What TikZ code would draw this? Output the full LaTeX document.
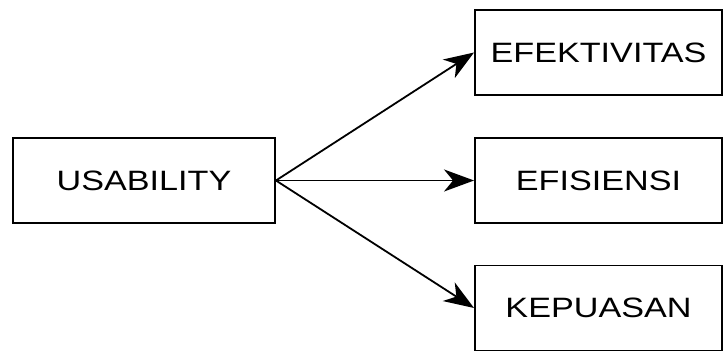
\documentclass[tikz,border=0pt]{standalone}
\usepackage{fontspec}
\setmainfont[FakeStretch=1.22]{Liberation Sans}
\usetikzlibrary{arrows.meta}
\begin{document}
\begin{tikzpicture}[x=1pt,y=-1pt,
    kotak/.style={draw, line width=1.9pt, minimum height=85pt, inner sep=0pt, font=\fontsize{28}{30}\selectfont},
    panah/.style={line width=1.8pt, -{Stealth[length=30pt, width=22pt, inset=9pt]}}]
  \useasboundingbox (0,0) rectangle (725,354);
  \node[kotak, minimum width=262pt] (usab) at (144,180.5) {USABILITY}; %
  \node[kotak, minimum width=247pt] (efek) at (598.5,52.5) {EFEKTIVITAS}; %
  \node[kotak, minimum width=247pt] (efis) at (598.5,180.5) {EFISIENSI}; %
  \node[kotak, minimum width=247pt] (kepu) at (598.5,308) {KEPUASAN}; %
  \draw[panah] (usab.east) -- (efek.west); %
  \draw[panah] (usab.east) -- (efis.west); %
  \draw[panah] (usab.east) -- (kepu.west); %
\end{tikzpicture}
\end{document}
